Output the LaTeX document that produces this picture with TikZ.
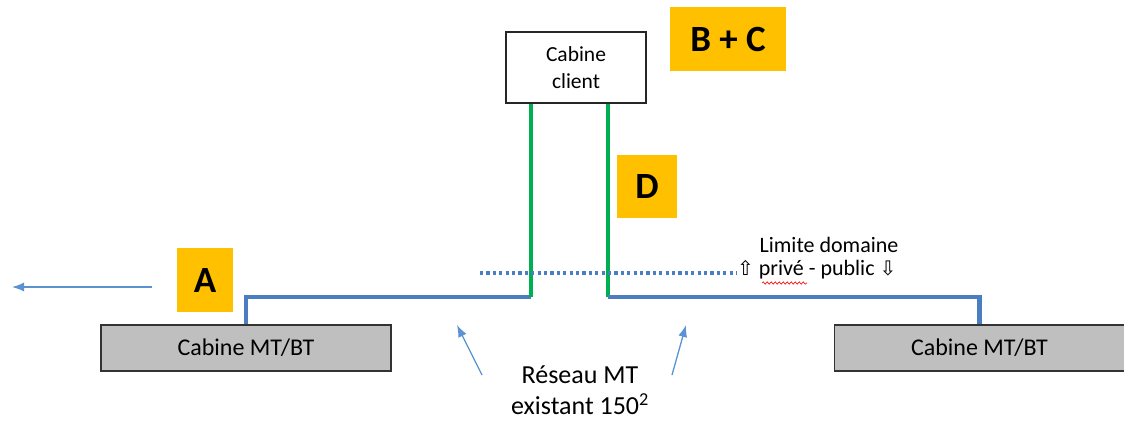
\documentclass[tikz,border=0pt]{standalone}
\usepackage{fontspec}
\setmainfont{Carlito}
\newfontfamily\symfont{DejaVu Sans}
\usetikzlibrary{arrows.meta,calc,decorations.pathmorphing}
\definecolor{mtblue}{RGB}{74,126,193}
\definecolor{thinblue}{RGB}{91,146,210}
\definecolor{cablegreen}{RGB}{0,176,80}
\definecolor{tagorange}{RGB}{255,192,0}
\definecolor{boxgray}{RGB}{191,191,191}
\tikzset{
  cabinebox/.style={draw=black!80,fill=boxgray,line width=1.2bp,minimum width=290bp,minimum height=46bp,inner sep=0pt,font=\fontsize{24bp}{28bp}\selectfont},
  clientbox/.style={draw=black!85,fill=white,line width=1.2bp,minimum width=140bp,minimum height=71bp,inner sep=0pt,align=center,font=\fontsize{21.5bp}{27bp}\selectfont},
  tag/.style={fill=tagorange,inner sep=0pt,font=\fontsize{37bp}{40bp}\selectfont\bfseries},
  mtline/.style={draw=mtblue,line width=4.5bp},
  greenline/.style={draw=cablegreen,line width=4bp},
  limitline/.style={draw=mtblue,line width=3.2bp,dash pattern=on 3.2bp off 3.2bp},
  thinarrow/.style={draw=thinblue,line width=1.3bp,-{Latex[length=12bp,width=9bp]}},
  plaintext/.style={inner sep=0pt,align=center},
}
\begin{document}
\begin{tikzpicture}[x=1bp,y=-1bp]
  \path[fill=white,use as bounding box] (0,0) rectangle (1124,421);
%%
  % Node: Cabine client
  \node[clientbox] (client) at (576,67.5) {Cabine\\client};
  % Node: Cabine MT/BT (left, right)
  \node[cabinebox] (lbox) at (246,348) {Cabine MT/BT};
  \node[cabinebox] (rbox) at (979.5,348) {Cabine MT/BT};
  % Node: tags
  \node[tag,minimum width=56bp,minimum height=64bp] (tagA) at (205,280) {A};
  \node[tag,minimum width=60bp,minimum height=63bp] (tagD) at (647,186.5) {D};
  \node[tag,minimum width=116bp,minimum height=64bp] (tagBC) at (728,39) {B + C};
  % Node: texts
  \node[plaintext,font=\fontsize{22bp}{26bp}\selectfont] (lim1) at (829,245) {Limite domaine};
  \node[plaintext,font=\fontsize{22bp}{26bp}\selectfont,anchor=west] (lim2) at (737,270) {{\symfont\fontsize{20bp}{22bp}\selectfont ⇧} privé - public {\symfont\fontsize{20bp}{22bp}\selectfont ⇩}};
  \node[plaintext,font=\fontsize{26bp}{31bp}\selectfont] (reseau) at (580,390) {Réseau MT\\existant 150\textsuperscript{2}};
%
  \coordinate (jl) at (531,297);
  \coordinate (jr) at (608,297);
  \coordinate (dl) at (480,273);
  \coordinate (la1) at (152,287);
  \coordinate (la0) at (12,287);
  \coordinate (ra1) at (482,375);
  \coordinate (ra0) at (457,325);
  \coordinate (rb1) at (672,375);
  \coordinate (rb0) at (686,325);
  % Edge: lbox -> client
  \draw[mtline] (lbox.north) |- (jl);
  \draw[greenline] (jl) -- (jl |- client.south);
  % Edge: client -> rbox
  \draw[greenline] (jr) -- (jr |- client.south);
  \draw[mtline] (jr) -| (rbox.north);
  % Edge: limite domaine
  \draw[limitline] (dl) -- (dl -| lim2.west);
  \draw[red,line width=0.6bp,decorate,decoration={snake,amplitude=1.2bp,segment length=4bp}] (762,283) -- (807,283);
  % Edge: arrows
  \draw[thinarrow] (la1) -- (la0);
  \draw[thinarrow] (ra1) -- (ra0);
  \draw[thinarrow] (rb1) -- (rb0);
%
\end{tikzpicture}
\end{document}
